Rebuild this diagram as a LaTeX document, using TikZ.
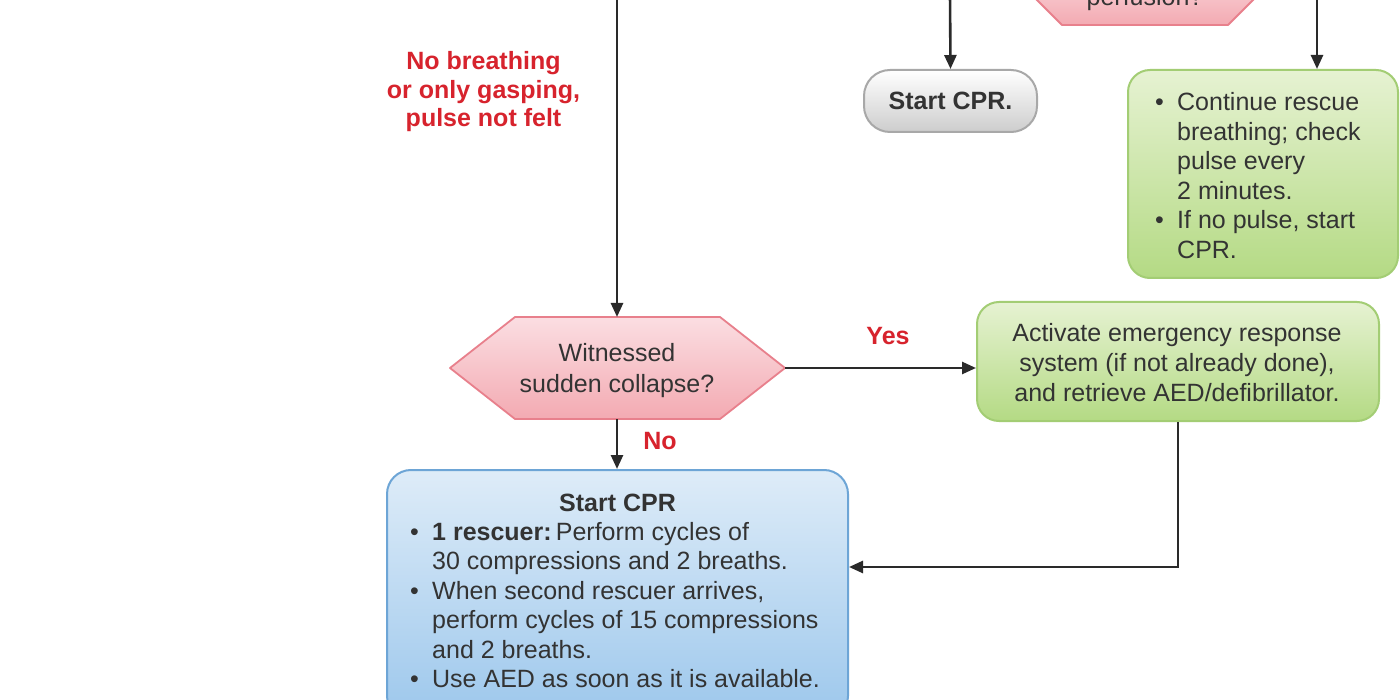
\documentclass[tikz,border=0pt]{standalone}
\usepackage{fontspec}
\setmainfont{Liberation Sans}
\usetikzlibrary{arrows.meta,calc}
\definecolor{txt}{HTML}{333333}
\definecolor{linec}{HTML}{2A2A2A}
\definecolor{redlab}{HTML}{D7232D}
\definecolor{pinktop}{HTML}{FBDEE2}
\definecolor{pinkbot}{HTML}{F3AAB2}
\definecolor{pinkdraw}{HTML}{E8808C}
\definecolor{greentop}{HTML}{E6F2D2}
\definecolor{greenbot}{HTML}{B4DA84}
\definecolor{greendraw}{HTML}{A3CD74}
\definecolor{bluetop}{HTML}{DEECF8}
\definecolor{bluebot}{HTML}{9CC7EC}
\definecolor{bluedraw}{HTML}{6DA5D6}
\definecolor{graytop}{HTML}{FFFFFF}
\definecolor{graybot}{HTML}{CDCDCD}
\definecolor{graydraw}{HTML}{A8A8A8}
\newcommand\bul{\makebox[22pt][l]{\textbullet}}
\newcommand\ind{\hspace*{22pt}}
\begin{document}
\begin{tikzpicture}[x=1pt,y=-1pt,
  font=\fontsize{25}{29.5}\selectfont, text=txt,
  arr/.style={draw=linec, line width=2.6pt, -{Triangle[length=14pt,width=12pt]}},
  hexshape/.style={draw=pinkdraw, line width=1.8pt, top color=pinktop, bottom color=pinkbot, line join=round},
  gbox/.style={draw=greendraw, line width=2pt, top color=greentop, bottom color=greenbot, rounded corners=22pt, inner sep=0pt},
  bbox/.style={draw=bluedraw, line width=2pt, top color=bluetop, bottom color=bluebot, rounded corners=24pt, inner sep=0pt},
  pill/.style={draw=graydraw, line width=2pt, top color=graytop, bottom color=graybot, rounded corners=26pt, inner sep=0pt, font=\fontsize{25}{29.5}\selectfont\bfseries},
  lab/.style={text=redlab, font=\fontsize{25}{28.5}\selectfont\bfseries, inner sep=0pt},
  tx/.style={inner sep=0pt}
]
\useasboundingbox (0,0) rectangle (1400,700);
\fill[white] (0,0) rectangle (1400,700);
\clip (0,0) rectangle (1400,700);

% partial hexagon at the top
\path[hexshape] (1000,-37) -- (1062,25) -- (1228,25) -- (1290,-37) -- cycle;
\node[tx, anchor=base] (perf) at (1145,6) {perfusion?};

% entry points from above
\coordinate (inA) at (617,-5);
\coordinate (inB) at (950,-5);
\coordinate (inC) at (1317,-5);

% Start CPR pill
\node[pill, minimum width=173pt, minimum height=62pt] (cpr) at (950.5,101) {Start CPR.};

% continue rescue breathing box
\node[gbox, minimum width=270pt, minimum height=208pt] (cont) at (1263,174) {};
\node[tx, anchor=base west] (contT) at (1155,111) {\begin{tabular}[t]{@{}l@{}}\bul Continue rescue\\ \ind breathing; check\\ \ind pulse every\\ \ind 2 minutes.\\ \bul If no pulse, start\\ \ind CPR.\end{tabular}};

% red label
\node[lab, anchor=base] (nobr) at (483.5,70) {\begin{tabular}[t]{@{}c@{}}No breathing\\ or only gasping,\\ pulse not felt\end{tabular}};

% witnessed hexagon
\path[hexshape] (450,368) -- (515,317) -- (720,317) -- (785,368) -- (720,419) -- (515,419) -- cycle;
\coordinate (witN) at (617,317);
\coordinate (witS) at (617,419);
\coordinate (witE) at (785,368);
\node[tx, anchor=base, font=\fontsize{25}{31}\selectfont] (wit) at (617,362) {\begin{tabular}[t]{@{}c@{}}Witnessed\\ sudden collapse?\end{tabular}};

% activate box
\node[gbox, minimum width=402pt, minimum height=119pt] (act) at (1178,361.5) {};
\node[tx, anchor=base] (actT) at (1177,342) {\begin{tabular}[t]{@{}c@{}}Activate emergency response\\ system (if not already done),\\ and retrieve AED/defibrillator.\end{tabular}};

% blue box
\node[bbox, minimum width=461pt, minimum height=250pt] (blue) at (617.5,595) {};
\node[tx, anchor=base] (blueH) at (617.5,511) {\bfseries Start CPR};
\node[tx, anchor=base west] (blueT) at (410,540) {\begin{tabular}[t]{@{}l@{}}\bul\textbf{1 rescuer:}\,Perform cycles of\\ \ind 30 compressions and 2 breaths.\\ \bul When second rescuer arrives,\\ \ind perform cycles of 15 compressions\\ \ind and 2 breaths.\\ \bul Use AED as soon as it is available.\end{tabular}};

% connectors
\draw[arr] (inA) -- (witN);
\draw[arr] (inB) -- (cpr.north);
\draw[arr] (inC) -- (inC |- cont.north);
\draw[arr] (witE) -- (witE -| act.west);
\draw[arr] (witS) -- (witS |- blue.north);
\draw[arr] (act.south) |- ($(blue.north east)+(0,98)$);

% branch labels
\node[lab, anchor=base] (yes) at (888,345) {Yes};
\node[lab, anchor=base] (no) at (660,449) {No};
\end{tikzpicture}
\end{document}
